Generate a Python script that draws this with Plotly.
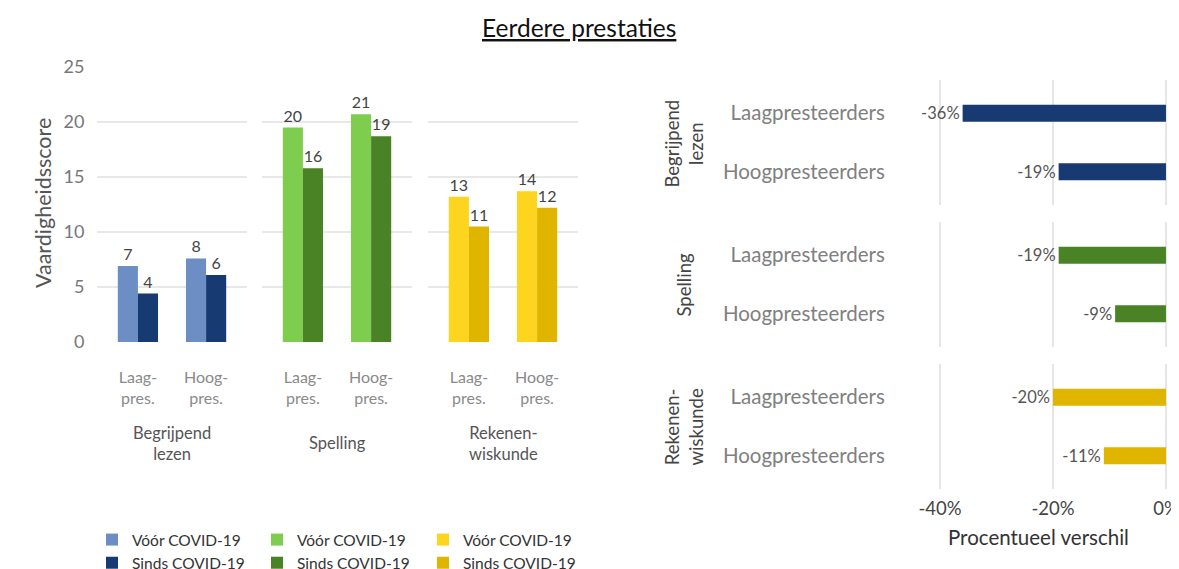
import plotly.graph_objects as go

W, H = 1179, 569
OFF = 8  # page body margin
def px(x): return (x - OFF) / W
def py(y): return 1 - (y - OFF) / H

FONT = "Lato"

# ---- data ----
subjects = ["Begrijpend<br>lezen", "Spelling", "Rekenen-<br>wiskunde"]
groups_short = ["Laag-<br>pres.", "Hoog-<br>pres."]
groups_long = ["Laagpresteerders", "Hoogpresteerders"]
voor = [[6.9, 7.6], [19.5, 20.7], [13.2, 13.7]]
sinds = [[4.4, 6.1], [15.8, 18.7], [10.5, 12.2]]
voor_lbl = [["7", "8"], ["20", "21"], ["13", "14"]]
sinds_lbl = [["4", "6"], ["16", "19"], ["11", "12"]]
pct_diff = [[-36, -19], [-19, -9], [-20, -11]]
pct_lbl = [["-36%", "-19%"], ["-19%", "-9%"], ["-20%", "-11%"]]
light_cols = ["#6C8EC5", "#7FCD4F", "#FDD41E"]
dark_cols = ["#173A72", "#4A8226", "#DFB500"]
legend_voor = "Vóór COVID-19"
legend_sinds = "Sinds COVID-19"
yticks_left = [0, 5, 10, 15, 20, 25]
xticks_right = [-40, -20, 0]
xticks_right_txt = ["-40%", "-20%", "0%"]

fig = go.Figure()

left_dom = [(97, 247), (262, 412), (428, 578)]
right_dom = [(80, 205), (222, 347), (364, 489)]
legend_x = [92, 257, 423]

layout = dict(
    width=W, height=H, margin=dict(l=0, r=0, t=0, b=0, autoexpand=False),
    paper_bgcolor="white", plot_bgcolor="white",
    font=dict(family=FONT, color="#444"),
    barmode="group", bargap=0.41, bargroupgap=0,
)

for i in range(3):
    xa = "x" if i == 0 else f"x{i+1}"
    ya = "y" if i == 0 else f"y{i+1}"
    leg = "legend" if i == 0 else f"legend{i+1}"
    fig.add_trace(go.Bar(x=[0, 1], y=voor[i], marker_color=light_cols[i], name=legend_voor,
                         text=voor_lbl[i], textposition="outside", cliponaxis=False,
                         textfont=dict(size=16, color="#444"), constraintext="none",
                         xaxis=xa, yaxis=ya, legend=leg, marker_line_width=0))
    fig.add_trace(go.Bar(x=[0, 1], y=sinds[i], marker_color=dark_cols[i], name=legend_sinds,
                         text=sinds_lbl[i], textposition="outside", cliponaxis=False,
                         textfont=dict(size=16, color="#444"), constraintext="none",
                         xaxis=xa, yaxis=ya, legend=leg, marker_line_width=0))
    xkey = "xaxis" if i == 0 else f"xaxis{i+1}"
    ykey = "yaxis" if i == 0 else f"yaxis{i+1}"
    layout[xkey] = dict(domain=[px(left_dom[i][0]), px(left_dom[i][1])], anchor=ya,
                        range=[-0.6, 1.6], tickvals=[0, 1], ticktext=groups_short,
                        showgrid=False, zeroline=False, showline=False,
                        ticks="outside", ticklen=21, tickcolor="rgba(0,0,0,0)",
                        tickfont=dict(size=16, color="#8a8a8a"))
    layout[ykey] = dict(domain=[py(342), py(67)], anchor=xa, range=[0, 25],
                        tickvals=yticks_left, showticklabels=(i == 0),
                        showgrid=True, gridcolor="#e8e8e8", gridwidth=2,
                        zeroline=False, showline=False,
                        ticks="outside" if i == 0 else "", ticklen=8,
                        tickcolor="rgba(0,0,0,0)",
                        tickfont=dict(size=18, color="#777"))
    layout[leg] = dict(x=px(legend_x[i]), y=py(523), xanchor="left", yanchor="top",
                       orientation="v", traceorder="normal", bgcolor="rgba(0,0,0,0)",
                       font=dict(size=15.5, color="#333"), itemwidth=30,
                       tracegroupgap=0)
    fig.add_annotation(x=px((left_dom[i][0] + left_dom[i][1]) / 2), y=py(443),
                       xref="paper", yref="paper", text=subjects[i], showarrow=False,
                       font=dict(size=16.5, color="#555"), xanchor="center", yanchor="middle")

for i in range(3):
    n = i + 4
    xa, ya = f"x{n}", f"y{n}"
    fig.add_trace(go.Bar(x=pct_diff[i], y=[0, 1], orientation="h", marker_color=dark_cols[i],
                         width=0.29, text=pct_lbl[i], textposition="outside", cliponaxis=False,
                         textfont=dict(size=16.5, color="#555"), constraintext="none",
                         xaxis=xa, yaxis=ya, showlegend=False, marker_line_width=0))
    bottom = (i == 2)
    layout[f"xaxis{n}"] = dict(domain=[px(905), px(1175)], anchor=ya, range=[-46.2, 1.6],
                              tickvals=xticks_right, ticktext=xticks_right_txt,
                              showticklabels=bottom, showgrid=True, gridcolor="#e6e6e6",
                              gridwidth=2, zeroline=False, showline=False,
                              ticks="outside" if bottom else "", ticklen=3,
                              tickcolor="rgba(0,0,0,0)",
                              tickfont=dict(size=18.5, color="#444"))
    layout[f"yaxis{n}"] = dict(domain=[py(right_dom[i][1]), py(right_dom[i][0])], anchor=xa,
                              range=[1.57, -0.57], tickvals=[0, 1], ticktext=groups_long,
                              showgrid=False, zeroline=False, showline=False,
                              ticks="outside", ticklen=15, tickcolor="rgba(0,0,0,0)",
                              tickfont=dict(size=20.5, color="#808080"))
    fig.add_annotation(x=px(683), y=py((right_dom[i][0] + right_dom[i][1]) / 2 + 1),
                       xref="paper", yref="paper", text=subjects[i], showarrow=False,
                       textangle=-90, font=dict(size=18.5, color="#444"),
                       xanchor="center", yanchor="middle")

# titles
fig.add_annotation(x=px(579), y=py(28), xref="paper", yref="paper",
                   text="<u>Eerdere prestaties</u>", showarrow=False,
                   font=dict(size=24.5, color="#111"), xanchor="center", yanchor="middle")
fig.add_annotation(x=px(43), y=py(203), xref="paper", yref="paper",
                   text="Vaardigheidsscore", showarrow=False, textangle=-90,
                   font=dict(size=21.5, color="#555"), xanchor="center", yanchor="middle")
fig.add_annotation(x=px(1038), y=py(537), xref="paper", yref="paper",
                   text="Procentueel verschil", showarrow=False,
                   font=dict(size=20.5, color="#333"), xanchor="center", yanchor="middle")

fig.update_layout(**layout)
fig.write_html("out.html")
